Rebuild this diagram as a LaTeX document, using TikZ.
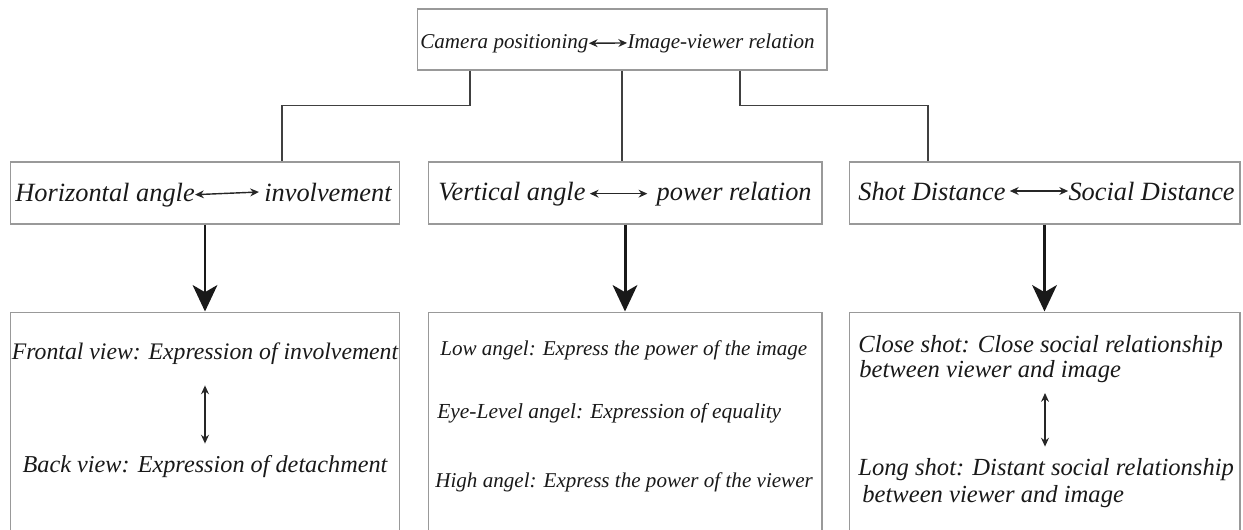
\documentclass[tikz,border=0pt]{standalone}
\usepackage{fontspec}
\setmainfont{Liberation Serif}
\usetikzlibrary{arrows.meta}

\begin{document}
\begin{tikzpicture}[x=0.02cm,y=-0.02cm,
  box/.style={draw=black!40,line width=0.6pt,inner sep=0pt},
  txt/.style={inner sep=0pt,text=black!90},
  link/.style={draw=black!75,line width=1.1pt},
  dbl/.style={{Stealth[length=5pt,width=4.5pt]}-{Stealth[length=5pt,width=4.5pt]},line width=0.8pt,black!85},
  down/.style={-{Stealth[length=15pt,width=14pt,inset=4pt]},line width=1.7pt,black!90}]
  \useasboundingbox (0,0) rectangle (1243,529);
  \clip (0,0) rectangle (1243,529);

  % boxes
  \node[box,minimum width=8.2cm,minimum height=1.22cm] (top) at (622,39.5) {};
  \node[box,minimum width=7.8cm,minimum height=1.24cm] (hor) at (205,193) {};
  \node[box,minimum width=7.88cm,minimum height=1.24cm] (ver) at (625,193) {};
  \node[box,minimum width=7.82cm,minimum height=1.24cm] (sho) at (1044.5,193) {};
  \node[box,minimum width=7.8cm,minimum height=5.36cm] (frt) at (205,446) {};
  \node[box,minimum width=7.88cm,minimum height=5.36cm] (pwr) at (625,446) {};
  \node[box,minimum width=7.82cm,minimum height=5.36cm] (soc) at (1044.5,446) {};

  % top
  \node[txt,anchor=base west,font=\fontsize{12}{14}\selectfont\itshape] (camA) at (420,48) {Camera positioning};
  \node[txt,anchor=base east,font=\fontsize{12}{14}\selectfont\itshape] (camB) at (815,48) {Image-viewer relation};
  \draw[dbl] (camA.east) -- (camB.west);

  % second row
  \node[txt,anchor=base west,font=\fontsize{15}{17}\selectfont\itshape] (horA) at (15,201) {Horizontal angle};
  \node[txt,anchor=base east,font=\fontsize{15}{17}\selectfont\itshape] (horB) at (392,201) {involvement};
  \draw[dbl] (horA.east) -- ([xshift=-0.1cm]horB.west);
  \node[txt,anchor=base west,font=\fontsize{15}{17}\selectfont\itshape] (verA) at (438,200) {Vertical angle};
  \node[txt,anchor=base east,font=\fontsize{15}{17}\selectfont\itshape] (verB) at (812,200) {power relation};
  \draw[dbl] ([xshift=0.08cm]verA.east) -- ([xshift=-0.18cm]verB.west);
  \node[txt,anchor=base west,font=\fontsize{15}{17}\selectfont\itshape] (shoA) at (858,200) {Shot Distance};
  \node[txt,anchor=base east,font=\fontsize{15}{17}\selectfont\itshape] (shoB) at (1235,200) {Social Distance};
  \draw[dbl] ([xshift=0.08cm]shoA.east) -- (shoB.west);

  % third row
  \node[txt,anchor=base,font=\fontsize{13.5}{15}\selectfont\itshape] (frtA) at (205,359) {Frontal view: Expression of involvement};
  \node[txt,anchor=base,font=\fontsize{13.8}{15}\selectfont\itshape] (frtB) at (205,472) {Back view: Expression of detachment};
  \draw[dbl] ([yshift=-0.42cm]frtA.south) -- ([yshift=0.22cm]frtB.north);

  \node[txt,anchor=base west,font=\fontsize{12}{14}\selectfont\itshape] (pwrA) at (440,355) {Low angel: Express the power of the image};
  \node[txt,anchor=base west,font=\fontsize{12.2}{14}\selectfont\itshape] (pwrB) at (437,418) {Eye-Level angel: Expression of equality};
  \node[txt,anchor=base west,font=\fontsize{12}{14}\selectfont\itshape] (pwrC) at (435,487) {High angel: Express the power of the viewer};

  \node[txt,anchor=base west,font=\fontsize{14}{15}\selectfont\itshape] (cloA) at (858,352) {Close shot: Close social relationship};
  \node[txt,anchor=base west,font=\fontsize{14}{15}\selectfont\itshape] (cloB) at (859,377) {between viewer and image};
  \node[txt,anchor=base west,font=\fontsize{14}{15}\selectfont\itshape] (lonA) at (858,475) {Long shot: Distant social relationship};
  \node[txt,anchor=base west,font=\fontsize{14}{15}\selectfont\itshape] (lonB) at (862,502) {between viewer and image};
  \coordinate (cloU) at (1045,393);
  \draw[dbl] (cloU) -- ([yshift=0.22cm]lonA.north -| cloU);

  % connectors
  \draw[link] ([xshift=-3.04cm]top.south) -- ++(0,35) -| ([xshift=1.54cm]hor.north);
  \draw[link] (top.south) -- (top.south |- ver.north);
  \draw[link] ([xshift=2.36cm]top.south) -- ++(0,35) -| ([xshift=-2.33cm]sho.north);
  \draw[down] (hor.south) -- (frt.north);
  \draw[down] (ver.south) -- (pwr.north);
  \draw[down] (sho.south) -- (soc.north);
\end{tikzpicture}
\end{document}
